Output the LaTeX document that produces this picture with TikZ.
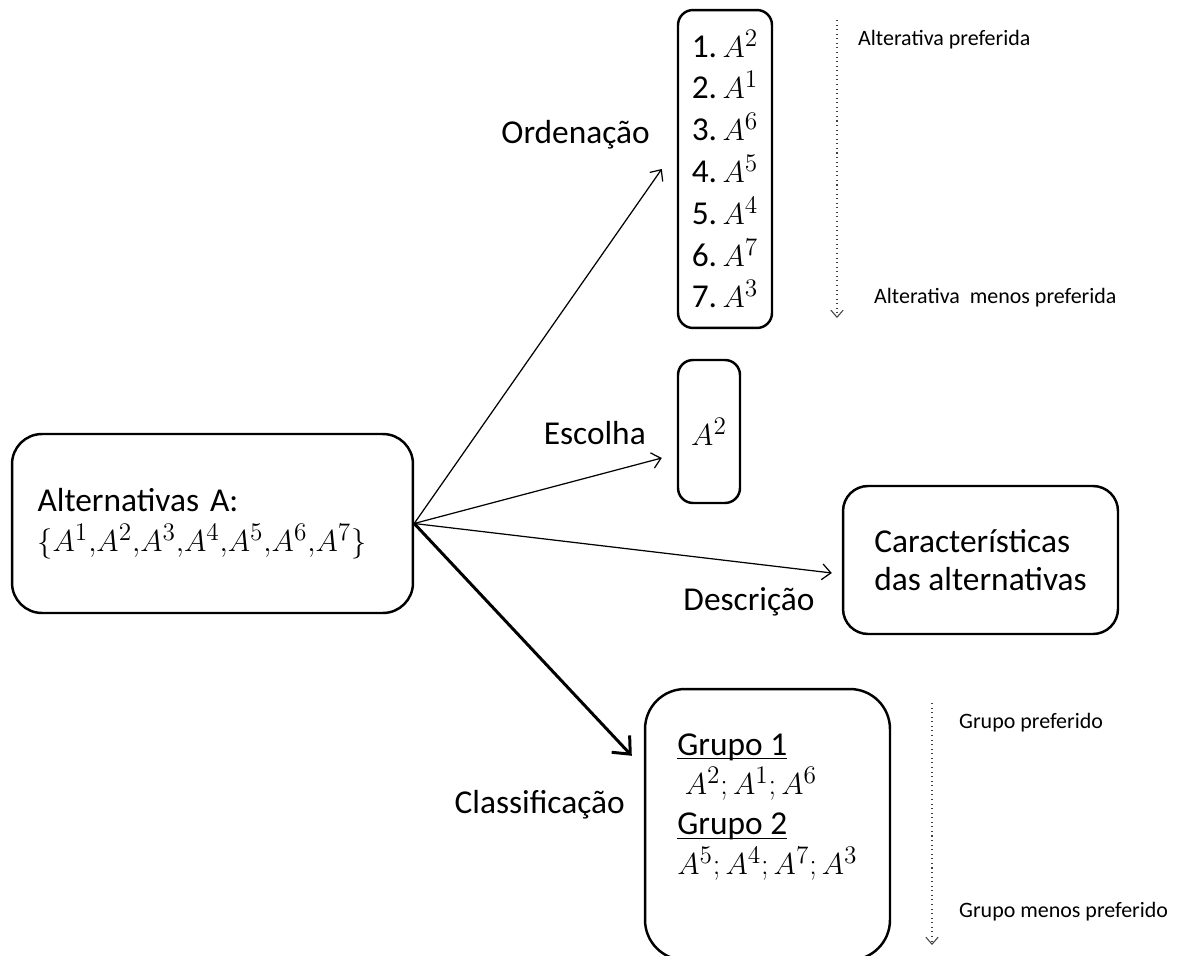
\documentclass[tikz,border=0pt]{standalone}
\usepackage{fontspec}
\setmainfont{Carlito}
\usepackage{tikz}
\usetikzlibrary{positioning,shapes,arrows.meta}
\newcommand{\grp}[1]{\sbox0{#1}\rlap{\rule[-2.5pt]{\wd0}{0.8pt}}\usebox0}
\tikzset{%
	choice/.style={%
		rectangle,
		draw,
		line width=1.4pt,
		rounded corners=#1,
		inner sep=0pt
	},
	choice/.default=0.3cm,
	problem/.style={font=\fontsize{19}{23}\selectfont},
	note/.style={font=\fontsize{12.5}{14}\selectfont, anchor=west},
	link/.style={-{Straight Barb[length=5pt,width=9pt]}, line width=0.7pt},
	scale line/.style={-{Straight Barb[length=4pt,width=7pt]}, dotted, line width=0.6pt, black!75}
}

\begin{document}
\begin{tikzpicture}[x=0.02cm, y=-0.02cm]
	\useasboundingbox (0,0) rectangle (1183,956);
	% boxes
	\node [choice=0.6cm, problem, minimum width=8.02cm, minimum height=3.58cm, text width=7.0cm, align=left] (alt) at (212.5,523.5) {Alternativas A:\\ $\{A^1{,}A^2{,}A^3{,}A^4{,}A^5{,}A^6{,}A^7\}$};
	\node [choice, minimum width=1.88cm, minimum height=6.36cm, align=left, font=\fontsize{19}{23.8}\selectfont] (ord) at (725,169) {1.\,$A^2$\\ 2.\,$A^1$\\ 3.\,$A^6$\\ 4.\,$A^5$\\ 5.\,$A^4$\\ 6.\,$A^7$\\ 7.\,$A^3$};
	\node [choice, problem, minimum width=1.24cm, minimum height=2.86cm] (esc) at (709,431.5) {$A^2$};
	\node [choice=0.5cm, problem, minimum width=5.5cm, minimum height=2.96cm, align=left, font=\fontsize{19}{21.5}\selectfont] (car) at (980.5,560) {Características\\ das alternativas};
	\node [choice=0.8cm, minimum width=4.9cm, minimum height=5.42cm] (cla) at (767.5,824.5) {};
	\node [problem, anchor=north west, align=left, inner sep=0pt, font=\fontsize{19}{22.7}\selectfont] (clalist) at (677,733) {\grp{Grupo 1}\\ \ $A^2{;}\,A^1{;}\,A^6$\\ \grp{Grupo 2}\\ $A^5{;}\,A^4{;}\,A^7{;}\,A^3$};
	% labels
	\node [problem, anchor=east] (ordlabel) at (656,135) {Ordenação};
	\node [problem, anchor=east] (esclabel) at (652,433) {Escolha};
	\node [problem] (desclabel) at (749,602) {Descrição};
	\node [problem, anchor=east] (clalabel) at (631,805) {Classificação};
	% connectors
	\draw [link] (alt.east) -- ([xshift=-0.3cm]ord.west);
	\draw [link] (alt.east) -- ([xshift=-0.3cm, yshift=-0.53cm]esc.west);
	\draw [link] (alt.east) -- ([xshift=-0.2cm, yshift=-0.26cm]car.west);
	\draw [-{Straight Barb[length=8pt,width=14pt]}, line width=1.7pt] (alt.east) -- ([xshift=-0.24cm, yshift=-1.36cm]cla.north west);
	% preference scales
	\coordinate (ordtop) at (837,20);
	\coordinate (ordbot) at (837,318);
	\draw [scale line] (ordtop) -- (ordbot);
	\node [note] (ordbest) at (852,40) {Alterativa preferida};
	\node [note] (ordworst) at (868,298) {Alterativa\ \ menos preferida};
	\coordinate (clatop) at (932,703);
	\coordinate (clabot) at (932,945);
	\draw [scale line] (clatop) -- (clabot);
	\node [note] (clabest) at (953,723) {Grupo preferido};
	\node [note] (claworst) at (953,912) {Grupo menos preferido};
\end{tikzpicture}
\end{document}
